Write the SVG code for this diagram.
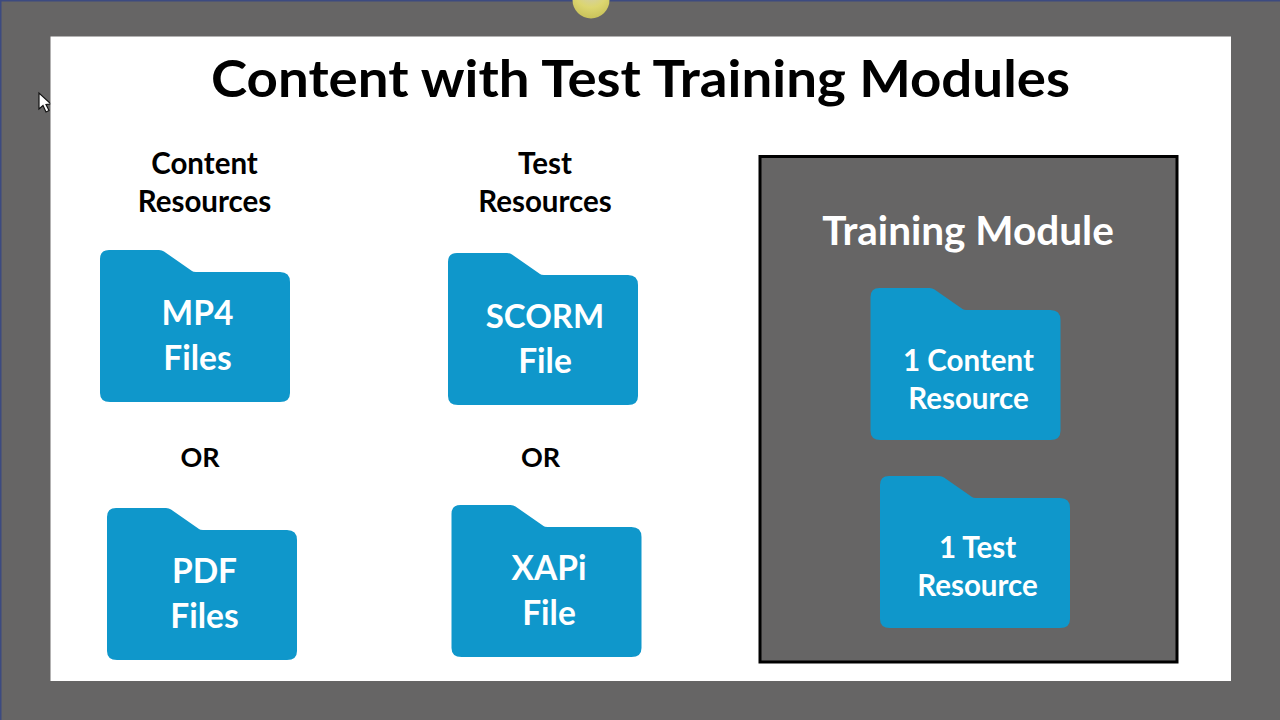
<svg xmlns="http://www.w3.org/2000/svg" xmlns:xlink="http://www.w3.org/1999/xlink" width="1280" height="720" viewBox="0 0 1280 720">
<style>
text{font-family:Lato,"Open Sans","Liberation Sans",sans-serif;font-weight:700;text-anchor:middle}
.h{font-size:29.500px;fill:#000}
.o{font-size:27px;fill:#000}
.f{font-size:33.500px;fill:#fff}
.s{font-size:29.500px;fill:#fff}
.folder{fill:#0f97cb}
</style>
<defs>
<path id="folder" class="folder" d="M9 0H59Q62 0 64 1.500L92 21Q93 22 96 22H180Q190 22 190 32V143Q190 152 180 152H10Q0 152 0 143V9Q0 0 9 0Z"/>
<radialGradient id="bulb" cx="0.5" cy="0.25" r="0.75"><stop offset="0" stop-color="#cfcbc0"/><stop offset="0.6" stop-color="#dcd670"/><stop offset="1" stop-color="#c9c25a"/></radialGradient>
</defs>
<rect width="1280" height="720" fill="#666565"/>
<rect x="0" y="0" width="1280" height="1.500" fill="#3c4a80"/>
<rect x="0" y="0" width="1.500" height="720" fill="#3c4a80"/>
<circle cx="591" cy="0" r="18.500" fill="url(#bulb)"/>
<path d="M39 93V109L43 105.500L46 112L49 110.500L46 104.500L51 104Z" fill="#fff" stroke="#111" stroke-width="1.200"/>
<rect id="slide" x="50.500" y="36.500" width="1180.500" height="644.500" fill="#fff"/>
<text id="title" x="640.500" y="97" font-size="51" textLength="859" lengthAdjust="spacingAndGlyphs" style="fill:#000">Content with Test Training Modules</text>
<g id="content-header"><text class="h" x="204.500" y="174">Content</text><text class="h" x="204.500" y="212">Resources</text></g>
<g id="test-header"><text class="h" x="545" y="174">Test</text><text class="h" x="545" y="212">Resources</text></g>
<g id="or-1"><text class="o" x="200" y="467">OR</text></g>
<g id="or-2"><text class="o" x="540.500" y="467">OR</text></g>
<g id="mp4"><use xlink:href="#folder" href="#folder" x="100" y="250"/><text class="f" x="197.500" y="324.500">MP4</text><text class="f" x="197.500" y="369.500">Files</text></g>
<g id="scorm"><use xlink:href="#folder" href="#folder" x="448" y="253"/><text class="f" x="545" y="327.500" style="font-size:33px">SCORM</text><text class="f" x="545" y="372.500">File</text></g>
<g id="pdf"><use xlink:href="#folder" href="#folder" x="107" y="508"/><text class="f" x="204.500" y="582.500">PDF</text><text class="f" x="204.500" y="627.500">Files</text></g>
<g id="xapi"><use xlink:href="#folder" href="#folder" x="451.500" y="505"/><text class="f" x="549" y="579.500">XAPi</text><text class="f" x="549" y="624.500">File</text></g>
<g id="training-module">
<rect x="760" y="156.500" width="417" height="505.500" fill="#666565" stroke="#000" stroke-width="3"/>
<text x="968" y="244.500" font-size="40.500" style="fill:#fff">Training Module</text>
</g>
<g id="content-resource"><use xlink:href="#folder" href="#folder" x="870.500" y="288"/><text class="s" x="968.500" y="370.500">1 Content</text><text class="s" x="968.500" y="408.500">Resource</text></g>
<g id="test-resource"><use xlink:href="#folder" href="#folder" x="880" y="476"/><text class="s" x="977.500" y="557.500">1 Test</text><text class="s" x="977.500" y="595.500">Resource</text></g>
<g id="connectors"/>
</svg>
